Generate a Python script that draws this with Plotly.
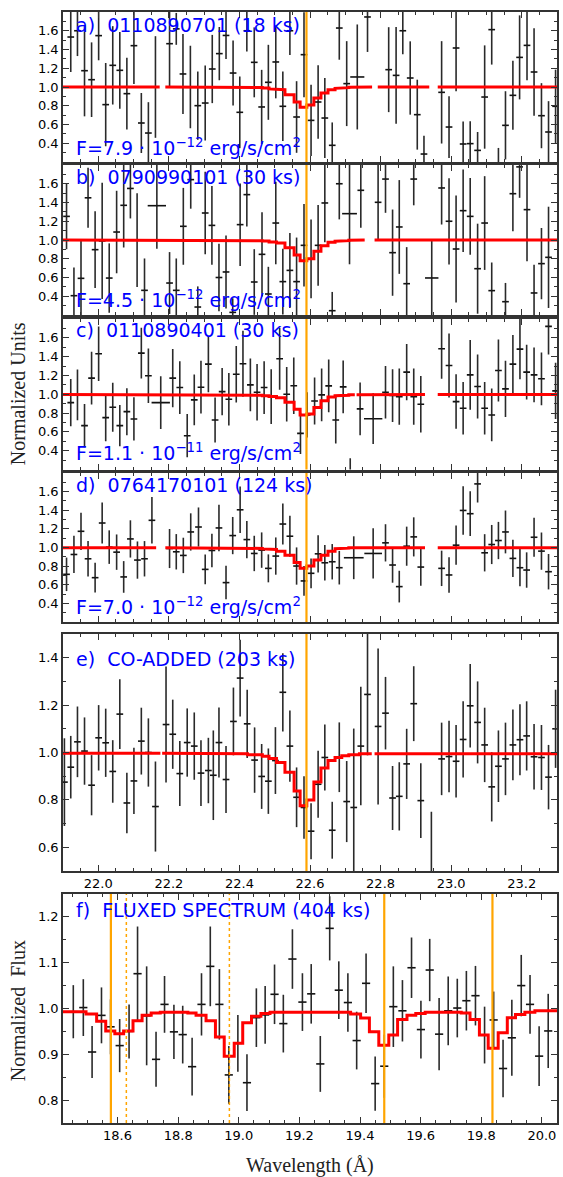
import plotly.graph_objects as go

# ---------------- data ----------------
# panel a
a_x = [21.922, 21.941, 21.961, 21.981, 22.001, 22.021, 22.041, 22.061, 22.081, 22.101, 22.122, 22.142, 22.162,
       22.202, 22.221, 22.240, 22.261, 22.282, 22.303, 22.323, 22.343, 22.362, 22.382, 22.401, 22.421, 22.442,
       22.463, 22.482, 22.503, 22.523, 22.543, 22.562, 22.583, 22.603, 22.623, 22.642, 22.663, 22.683, 22.704,
       22.734, 22.763, 22.823, 22.844, 22.863, 22.884, 22.904, 22.923, 22.973, 22.994, 23.014, 23.034, 23.054,
       23.075, 23.095, 23.115, 23.134, 23.154, 23.175, 23.194, 23.215, 23.235, 23.256, 23.276, 23.296]
a_y = [1.533, 1.60, 1.174, 1.078, 1.548, 0.812, 1.231, 1.178, 0.929, 1.441, 0.616, 0.509, 1.0,
       1.462, 1.62, 1.139, 1.0, 0.801, 0.829, 1.192, 1.356, 1.55, 1.149, 0.73, 1.60, 1.263, 0.787, 1.05, 1.267,
       0.794, 1.60, 0.68, 1.345, 0.644, 0.84, 0.669, 0.378, 1.629, 1.036, 1.107, 1.747, 1.185, 1.124, 1.60,
       1.096, 0.705, 0.285, 0.943, 0.573, 1.416, 0.392, 0.396, 0.324, 0.893, 1.612, 0.15, 0.591, 0.911, 1.316,
       1.444, 1.16, 0.694, 0.52, 0.794]
a_err = [0.373, 0.27, 0.487, 0.398, 0.263, 0.444, 0.418, 0.409, 0.382, 0.409, 0.32, 0.329, 0.542,
         0.462, 0.17, 0.427, 0.44, 0.364, 0.40, 0.364, 0.284, 0.25, 0.347, 0.382, 0.22, 0.373, 0.396, 0.40, 0.388,
         0.37, 0.26, 0.382, 0.453, 0.379, 0.391, 0.427, 0.244, 0.338, 0.453, 0.56, 0.373, 0.453, 0.516, 0.25,
         0.391, 0.373, 0.196, 0.546, 0.329, 0.462, 0.24, 0.24, 0.196, 0.551, 0.373, 0.2, 0.364, 0.368, 0.448,
         0.373, 0.466, 0.347, 0.329, 0.391]
a_wide = {22.734: 0.02}

# panel b
b_x = [21.910, 21.931, 21.951, 21.971, 21.991, 22.011, 22.031, 22.052, 22.072, 22.091, 22.110, 22.131, 22.166,
       22.202, 22.221, 22.241, 22.262, 22.282, 22.303, 22.322, 22.342, 22.362, 22.381, 22.402, 22.421, 22.442,
       22.464, 22.482, 22.503, 22.523, 22.543, 22.562, 22.583, 22.603, 22.623, 22.642, 22.663, 22.683, 22.712,
       22.744, 22.793, 22.814, 22.834, 22.853, 22.874, 22.894, 22.945, 22.973, 22.994, 23.014, 23.034, 23.054,
       23.075, 23.095, 23.115, 23.154, 23.175, 23.194, 23.215, 23.235, 23.256, 23.276]
b_y = [1.252, 0.406, 0.591, 1.45, 0.897, 0.99, 0.594, 1.085, 1.37, 1.55, 1.0, 0.463, 1.366, 0.541, 0.463, 1.146,
       1.644, 0.285, 1.288, 1.156, 0.60, 0.659, 0.228, 1.164, 1.484, 0.552, 0.847, 0.424, 1.181, 0.556, 0.676,
       0.556, 0.943, 0.80, 0.943, 1.395, 0.246, 1.60, 1.281, 1.53, 1.402, 1.65, 0.865, 1.139, 0.534, 1.65, 0.595,
       1.555, 1.20, 0.904, 1.313, 1.252, 0.694, 1.181, 0.46, 0.342, 1.494, 1.78, 1.324, 0.435, 0.748, 0.815]
b_err = [0.35, 0.30, 0.40, 0.32, 0.41, 0.62, 0.37, 0.44, 0.45, 0.32, 0.50, 0.34, 0.46, 0.33, 0.34, 0.41, 0.31,
         0.22, 0.44, 0.42, 0.36, 0.39, 0.15, 0.44, 0.34, 0.35, 0.45, 0.29, 0.44, 0.35, 0.40, 0.47, 0.44, 0.42,
         0.43, 0.42, 0.20, 0.38, 0.54, 0.40, 0.41, 0.36, 0.46, 0.50, 0.39, 0.28, 0.41, 0.39, 0.46, 0.57, 0.44,
         0.41, 0.48, 0.50, 0.30, 0.20, 0.40, 0.33, 0.55, 0.30, 0.38, 0.54]
b_wide = {22.166: 0.026, 22.712: 0.021, 22.945: 0.019}

# panel c
c_x = [21.922, 21.941, 21.961, 21.981, 22.001, 22.021, 22.041, 22.061, 22.081, 22.101, 22.122, 22.142, 22.177,
       22.211, 22.231, 22.252, 22.272, 22.291, 22.312, 22.331, 22.351, 22.370, 22.391, 22.410, 22.431, 22.450,
       22.470, 22.490, 22.514, 22.534, 22.554, 22.573, 22.592, 22.613, 22.633, 22.653, 22.673, 22.694, 22.714,
       22.742, 22.779, 22.814, 22.834, 22.853, 22.874, 22.894, 22.914, 22.973, 22.994, 23.014, 23.034, 23.054,
       23.075, 23.095, 23.115, 23.134, 23.154, 23.175, 23.195, 23.214, 23.235, 23.256, 23.276, 23.296]
c_y = [0.911, 0.993, 0.666, 1.171, 1.43, 0.751, 0.861, 0.666, 0.815, 0.737, 1.437, 1.196, 0.911, 1.171, 1.071,
       0.559, 0.94, 1.075, 1.32, 0.726, 1.028, 0.947, 1.213, 1.324, 1.10, 1.021, 1.071, 0.975, 1.377, 1.0, 1.09,
       0.584, 0.78, 0.929, 0.993, 1.089, 0.726, 1.078, 0.14, 0.844, 0.74, 1.021, 0.986, 0.975, 1.235, 0.975,
       0.893, 1.484, 1.306, 0.922, 0.851, 1.206, 1.082, 0.851, 0.78, 1.252, 1.057, 1.32, 1.48, 1.235, 1.206,
       1.164, 1.722, 1.036]
c_err = [0.25, 0.27, 0.23, 0.28, 0.29, 0.25, 0.26, 0.22, 0.25, 0.23, 0.27, 0.29, 0.28, 0.31, 0.28, 0.23, 0.27,
         0.28, 0.30, 0.24, 0.25, 0.28, 0.30, 0.35, 0.28, 0.30, 0.28, 0.29, 0.33, 0.29, 0.30, 0.22, 0.24, 0.25,
         0.28, 0.28, 0.25, 0.28, 0.18, 0.28, 0.27, 0.28, 0.28, 0.30, 0.30, 0.30, 0.30, 0.32, 0.34, 0.29, 0.28,
         0.37, 0.34, 0.28, 0.28, 0.33, 0.30, 0.31, 0.32, 0.29, 0.29, 0.28, 0.30, 0.30]
c_wide = {22.177: 0.026, 22.779: 0.026}

# panel d
d_x = [21.910, 21.931, 21.951, 21.971, 21.991, 22.011, 22.031, 22.052, 22.072, 22.091, 22.111, 22.131, 22.152,
       22.202, 22.221, 22.241, 22.262, 22.284, 22.303, 22.322, 22.342, 22.362, 22.381, 22.402, 22.421, 22.442,
       22.463, 22.482, 22.503, 22.523, 22.543, 22.562, 22.583, 22.603, 22.623, 22.642, 22.663, 22.683, 22.724,
       22.779, 22.814, 22.834, 22.853, 22.874, 22.894, 22.914, 22.973, 22.994, 23.014, 23.034, 23.054, 23.075,
       23.095, 23.115, 23.134, 23.154, 23.175, 23.195, 23.214, 23.235, 23.256, 23.276]
d_y = [0.712, 0.925, 1.174, 0.879, 0.676, 1.263, 1.004, 0.95, 0.684, 1.092, 0.865, 0.879, 1.292, 0.989, 0.954,
       0.915, 1.167, 1.22, 0.765, 0.968, 1.21, 0.623, 1.128, 1.405, 1.085, 0.936, 0.972, 0.776, 0.908, 1.252,
       1.121, 0.801, 0.641, 0.723, 0.932, 0.836, 0.847, 0.783, 0.89, 0.936, 1.05, 0.812, 0.58, 1.014, 1.114,
       0.79, 0.776, 0.705, 1.025, 1.398, 1.363, 1.683, 0.943, 1.032, 1.075, 1.167, 0.883, 0.783, 0.758, 1.11,
       0.961, 0.74]
d_err = [0.18, 0.20, 0.20, 0.19, 0.16, 0.22, 0.18, 0.19, 0.17, 0.20, 0.20, 0.19, 0.25, 0.21, 0.19, 0.19, 0.20,
         0.21, 0.16, 0.18, 0.25, 0.18, 0.20, 0.25, 0.20, 0.19, 0.19, 0.15, 0.20, 0.22, 0.22, 0.20, 0.16, 0.16,
         0.20, 0.19, 0.19, 0.18, 0.23, 0.27, 0.20, 0.19, 0.17, 0.21, 0.21, 0.20, 0.19, 0.19, 0.21, 0.26, 0.24,
         0.20, 0.20, 0.21, 0.20, 0.23, 0.20, 0.20, 0.19, 0.21, 0.20, 0.19]
d_wide = {22.724: 0.028, 22.779: 0.025}

# panel e (co-added)
e_x = [21.904, 21.922, 21.941, 21.961, 21.981, 22.001, 22.021, 22.041, 22.061, 22.081, 22.101, 22.122, 22.142,
       22.162, 22.192, 22.211, 22.231, 22.252, 22.272, 22.291, 22.312, 22.326, 22.342, 22.362, 22.383, 22.402,
       22.422, 22.443, 22.463, 22.482, 22.502, 22.523, 22.543, 22.562, 22.583, 22.603, 22.623, 22.642, 22.663,
       22.683, 22.704, 22.724, 22.744, 22.763, 22.793, 22.814, 22.834, 22.853, 22.874, 22.894, 22.914, 22.944,
       22.973, 22.994, 23.014, 23.034, 23.054, 23.075, 23.095, 23.115, 23.134, 23.154, 23.175, 23.195, 23.214,
       23.235, 23.256, 23.276, 23.296]
e_y = [0.875, 0.938, 1.045, 1.006, 0.862, 1.062, 1.041, 0.92, 1.162, 0.787, 0.88, 1.048, 1.0, 0.772, 1.118,
       1.077, 0.911, 1.042, 1.027, 0.913, 0.924, 0.904, 1.042, 0.886, 1.131, 1.314, 1.121, 0.968, 0.899, 0.879,
       0.966, 1.254, 1.027, 0.811, 0.768, 0.668, 0.866, 0.979, 0.672, 0.98, 0.793, 0.768, 1.027, 1.245, 1.11,
       1.166, 0.808, 0.815, 0.952, 1.206, 0.797, 0.49, 0.973, 0.983, 0.963, 1.055, 1.197, 1.127, 1.032, 0.855,
       0.942, 0.973, 1.032, 1.054, 1.07, 0.982, 0.979, 0.896, 1.10]
e_err = [0.185, 0.132, 0.149, 0.142, 0.127, 0.138, 0.144, 0.132, 0.147, 0.128, 0.14, 0.141, 0.144, 0.19, 0.245,
         0.146, 0.137, 0.144, 0.142, 0.139, 0.138, 0.189, 0.148, 0.141, 0.143, 0.162, 0.144, 0.138, 0.137, 0.138,
         0.141, 0.165, 0.15, 0.126, 0.132, 0.118, 0.141, 0.139, 0.12, 0.147, 0.171, 0.333, 0.25, 0.257, 0.329,
         0.153, 0.135, 0.144, 0.148, 0.158, 0.158, 0.26, 0.153, 0.151, 0.153, 0.161, 0.176, 0.173, 0.157, 0.146,
         0.151, 0.153, 0.149, 0.15, 0.146, 0.138, 0.137, 0.136, 0.165]
e_wide = {}

# panel f (fluxed spectrum)
f_x = [18.454, 18.487, 18.516, 18.547, 18.577, 18.607, 18.638, 18.666, 18.696, 18.727, 18.755, 18.786, 18.815,
       18.846, 18.877, 18.906, 18.936, 18.967, 18.997, 19.027, 19.058, 19.087, 19.118, 19.147, 19.177, 19.210,
       19.239, 19.269, 19.300, 19.330, 19.360, 19.389, 19.420, 19.450, 19.480, 19.510, 19.540, 19.570, 19.601,
       19.630, 19.661, 19.691, 19.721, 19.751, 19.781, 19.811, 19.841, 19.872, 19.901, 19.932, 19.961, 19.991,
       20.021]
f_y = [0.993, 1.002, 0.905, 0.985, 0.96, 0.919, 0.95, 1.076, 0.984, 0.889, 1.009, 0.949, 0.943, 0.873, 1.009,
       1.092, 1.009, 0.855, 0.924, 0.838, 0.98, 0.986, 1.031, 0.967, 1.108, 1.014, 1.032, 0.879, 1.175, 1.04,
       1.013, 0.93, 1.055, 0.836, 0.874, 1.004, 0.995, 1.089, 0.954, 1.084, 0.944, 0.995, 1.001, 1.017, 1.028,
       0.942, 0.975, 0.869, 0.936, 1.05, 1.009, 0.896, 0.951]
f_err = [0.058, 0.062, 0.057, 0.061, 0.06, 0.058, 0.059, 0.103, 0.108, 0.06, 0.062, 0.059, 0.063, 0.063, 0.068,
         0.087, 0.077, 0.063, 0.062, 0.062, 0.064, 0.063, 0.065, 0.063, 0.065, 0.063, 0.065, 0.061, 0.07, 0.063,
         0.064, 0.063, 0.065, 0.059, 0.069, 0.088, 0.067, 0.066, 0.063, 0.068, 0.079, 0.075, 0.064, 0.065, 0.065,
         0.062, 0.062, 0.063, 0.083, 0.067, 0.064, 0.065, 0.081]

# absorption models (step bins: left edges + value per bin)
model_edges = [21.9, 22.40, 22.423, 22.465, 22.484, 22.505, 22.529, 22.555, 22.572, 22.591, 22.611, 22.631,
               22.651, 22.671, 22.69, 22.71, 22.74, 23.3]
a_model = [1.0, 0.998, 0.995, 0.99, 0.98, 0.972, 0.918, 0.84, 0.783, 0.808, 0.883, 0.936, 0.972, 0.986, 0.993, 0.997, 1.0]
b_model = [1.0, 0.998, 0.993, 0.99, 0.98, 0.968, 0.917, 0.84, 0.78, 0.80, 0.879, 0.94, 0.975, 0.988, 0.993, 0.997, 1.0]
c_model = [0.997, 0.995, 0.99, 0.985, 0.975, 0.962, 0.915, 0.84, 0.78, 0.79, 0.86, 0.93, 0.97, 0.985, 0.99, 0.995, 0.997]
d_model = [0.998, 0.996, 0.99, 0.985, 0.978, 0.961, 0.918, 0.84, 0.776, 0.80, 0.865, 0.918, 0.961, 0.986, 0.993, 0.996, 0.998]
e_model = [0.997, 0.995, 0.99, 0.984, 0.975, 0.958, 0.917, 0.838, 0.775, 0.80, 0.876, 0.935, 0.966, 0.979, 0.986, 0.99, 0.995]
a_gaps = [(22.174, 22.19), (22.776, 22.792), (22.938, 22.962)]
b_gaps = [(22.755, 22.783)]
c_gaps = [(22.727, 22.732), (22.926, 22.962)]
d_gaps = [(22.164, 22.19), (22.926, 22.962)]
e_gaps = [(22.176, 22.181), (22.775, 22.783)]

f_edges = [18.42, 18.496, 18.531, 18.561, 18.591, 18.62, 18.651, 18.681, 18.711, 18.741, 18.832, 18.859, 18.892,
           18.923, 18.952, 18.985, 19.013, 19.042, 19.073, 19.103, 19.369, 19.402, 19.431, 19.462, 19.495, 19.524,
           19.555, 19.584, 19.615, 19.734, 19.763, 19.794, 19.823, 19.856, 19.886, 19.913, 19.944, 19.977, 20.05]
f_model = [0.993, 0.988, 0.972, 0.951, 0.945, 0.951, 0.973, 0.985, 0.99, 0.992, 0.99, 0.985, 0.973, 0.938, 0.896,
           0.924, 0.969, 0.983, 0.989, 0.992, 0.988, 0.979, 0.949, 0.92, 0.942, 0.976, 0.985, 0.989, 0.992, 0.99,
           0.976, 0.942, 0.913, 0.947, 0.98, 0.987, 0.992, 0.995]

line_top = [22.59]
f_lines_solid = [18.578, 19.48, 19.837]
f_lines_dotted = [18.629, 18.969]

titles = ["a)\u00a0 0110890701 (18 ks)", "b)\u00a0 0790990101 (30 ks)", "c)\u00a0 0110890401 (30 ks)",
          "d)\u00a0 0764170101 (124 ks)", "e)\u00a0 CO-ADDED (203 ks)", "f)\u00a0 FLUXED SPECTRUM (404 ks)"]
fluxes = ["F=7.9 · 10<sup>−12</sup> erg/s/cm<sup>2</sup>", "F=4.5 · 10<sup>−12</sup> erg/s/cm<sup>2</sup>",
          "F=1.1 · 10<sup>−11</sup> erg/s/cm<sup>2</sup>", "F=7.0 · 10<sup>−12</sup> erg/s/cm<sup>2</sup>"]

ytick_top = [0.4, 0.6, 0.8, 1.0, 1.2, 1.4, 1.6]
ytick_e = [0.6, 0.8, 1.0, 1.2, 1.4]
ytick_f = [0.8, 0.9, 1.0, 1.1, 1.2]
xtick_top = [22.0, 22.2, 22.4, 22.6, 22.8, 23.0, 23.2]
xtick_f = [18.6, 18.8, 19.0, 19.2, 19.4, 19.6, 19.8, 20.0]

# ---------------- layout geometry (pixels) ----------------
W, H = 563, 1177
L, R, T, B = 63, 4, 12, 54
PH = H - T - B
PW = W - L - R
panel_px = [(12, 162), (165, 315), (319, 469.5), (473, 622), (634, 871), (894, 1123)]


def ypaper(py):
    return (H - B - py) / PH


def xpaper(px):
    return (px - L) / PW


def step_line(edges, vals, gaps):
    xs, ys = [], []
    for i in range(len(edges) - 1):
        segs = [(edges[i], edges[i + 1])]
        for g0, g1 in gaps:
            new = []
            for s0, s1 in segs:
                if g1 <= s0 or g0 >= s1:
                    new.append((s0, s1))
                    continue
                if s0 < g0:
                    new.append((s0, g0))
                if g1 < s1:
                    new.append((g1, s1))
            segs = new
        for s0, s1 in segs:
            if xs and xs[-1] is not None and abs(xs[-1] - s0) > 1e-9:
                xs.append(None)
                ys.append(None)
            xs += [s0, s1]
            ys += [vals[i], vals[i]]
    return xs, ys


fig = go.Figure()
ERRC = '#2a2a2a'

panels = [
    (a_x, a_y, a_err, a_wide, a_model, a_gaps),
    (b_x, b_y, b_err, b_wide, b_model, b_gaps),
    (c_x, c_y, c_err, c_wide, c_model, c_gaps),
    (d_x, d_y, d_err, d_wide, d_model, d_gaps),
    (e_x, e_y, e_err, e_wide, e_model, e_gaps),
]

for i, (px_, py_, pe_, pw_, pm_, pg_) in enumerate(panels):
    n = i + 1
    xa = 'x' if n == 1 else 'x%d' % n
    ya = 'y' if n == 1 else 'y%d' % n
    xerr = [pw_.get(v, 0.0095) for v in px_]
    fig.add_trace(go.Scatter(x=px_, y=py_, mode='markers', xaxis=xa, yaxis=ya,
                             marker=dict(size=1, color=ERRC),
                             error_y=dict(type='data', array=pe_, width=0, thickness=1.6, color=ERRC),
                             error_x=dict(type='data', array=xerr, width=0, thickness=1.6, color='#111111'),
                             showlegend=False, hoverinfo='skip'))
    mx, my = step_line(model_edges, pm_, pg_)
    fig.add_trace(go.Scatter(x=mx, y=my, mode='lines', xaxis=xa, yaxis=ya,
                             line=dict(color='#ff0000', width=3), connectgaps=False,
                             showlegend=False, hoverinfo='skip'))

# panel f
fig.add_trace(go.Scatter(x=f_x, y=f_y, mode='markers', xaxis='x6', yaxis='y6',
                         marker=dict(size=1, color=ERRC),
                         error_y=dict(type='data', array=f_err, width=0, thickness=1.6, color=ERRC),
                         error_x=dict(type='data', array=[0.0135] * len(f_x), width=0, thickness=1.6,
                                      color='#111111'),
                         showlegend=False, hoverinfo='skip'))
fmx, fmy = step_line(f_edges, f_model, [])
fig.add_trace(go.Scatter(x=fmx, y=fmy, mode='lines', xaxis='x6', yaxis='y6',
                         line=dict(color='#ff0000', width=3), showlegend=False, hoverinfo='skip'))

axis_common = dict(showline=True, linecolor='#333333', linewidth=1.5, mirror='ticks', ticks='inside',
                   ticklen=6, tickwidth=1.2, tickcolor='#333333', showgrid=False, zeroline=False,
                   tickfont=dict(family='DejaVu Sans', size=13, color='black'))

layout = dict(width=W, height=H, margin=dict(l=L, r=R, t=T, b=B), paper_bgcolor='white',
              plot_bgcolor='white', showlegend=False)

for i in range(6):
    n = i + 1
    xk = 'xaxis' if n == 1 else 'xaxis%d' % n
    yk = 'yaxis' if n == 1 else 'yaxis%d' % n
    top, bot = panel_px[i]
    ydom = [max(0.0, ypaper(bot)), min(1.0, ypaper(top))]
    if n <= 5:
        xa = dict(axis_common, range=[21.9, 23.3], tickmode='array', tickvals=xtick_top, tickformat='.1f',
                  showticklabels=(n == 5), anchor='y' if n == 1 else 'y%d' % n,
                  minor=dict(ticks='inside', ticklen=3, tick0=0, dtick=0.05, tickcolor='#333333'))
        if n > 1:
            xa['matches'] = 'x'
        if n <= 4:
            ya = dict(axis_common, range=[0.2, 1.8], tickmode='array', tickvals=ytick_top, tickformat='.1f',
                      minor=dict(ticks='inside', ticklen=3, tick0=0, dtick=0.1, tickcolor='#333333'))
        else:
            ya = dict(axis_common, range=[0.5, 1.5], tickmode='array', tickvals=ytick_e, tickformat='.1f',
                      minor=dict(ticks='inside', ticklen=3, tick0=0, dtick=0.1, tickcolor='#333333'))
    else:
        xa = dict(axis_common, range=[18.42, 20.05], tickmode='array', tickvals=xtick_f, tickformat='.1f',
                  anchor='y6', minor=dict(ticks='inside', ticklen=3, tick0=0, dtick=0.05, tickcolor='#333333'))
        ya = dict(axis_common, range=[0.75, 1.25], tickmode='array', tickvals=ytick_f, tickformat='.1f',
                  minor=dict(ticks='inside', ticklen=3, tick0=0, dtick=0.05, tickcolor='#333333'))
    ya['domain'] = ydom
    ya['anchor'] = 'x' if n == 1 else 'x%d' % n
    layout[xk] = xa
    layout[yk] = ya

shapes = []
for n in range(1, 6):
    xr = 'x' if n == 1 else 'x%d' % n
    yr = 'y domain' if n == 1 else 'y%d domain' % n
    for v in line_top:
        shapes.append(dict(type='line', xref=xr, yref=yr, x0=v, x1=v, y0=0, y1=1,
                           line=dict(color='#ffa500', width=2.2), layer='above'))
for v in f_lines_solid:
    shapes.append(dict(type='line', xref='x6', yref='y6 domain', x0=v, x1=v, y0=0, y1=1,
                       line=dict(color='#ffa500', width=2.2), layer='above'))
for v in f_lines_dotted:
    shapes.append(dict(type='line', xref='x6', yref='y6 domain', x0=v, x1=v, y0=0, y1=1,
                       line=dict(color='#ffa500', width=1.5, dash='dot'), layer='above'))
layout['shapes'] = shapes

title_y = [25, 177, 330, 485, 659, 910]
flux_y = [146.7, 299.3, 451.7, 606]
ann = []
for t, yy in zip(titles, title_y):
    ann.append(dict(text=t, xref='paper', yref='paper', x=xpaper(74), y=ypaper(yy), xanchor='left',
                    yanchor='middle', showarrow=False, font=dict(family='DejaVu Sans', size=19, color='#0000ff')))
for t, yy in zip(fluxes, flux_y):
    ann.append(dict(text=t, xref='paper', yref='paper', x=xpaper(74), y=ypaper(yy), xanchor='left',
                    yanchor='middle', showarrow=False, font=dict(family='DejaVu Sans', size=19, color='#0000ff')))
ann.append(dict(text='Normalized Units', xref='paper', yref='paper', x=xpaper(18), y=ypaper(394),
                xanchor='center', yanchor='middle', textangle=-90, showarrow=False,
                font=dict(family='Liberation Serif', size=20, color='#222222')))
ann.append(dict(text='Normalized\u00a0 Flux', xref='paper', yref='paper', x=xpaper(18), y=ypaper(1011),
                xanchor='center', yanchor='middle', textangle=-90, showarrow=False,
                font=dict(family='Liberation Serif', size=20, color='#222222')))
ann.append(dict(text='Wavelength (Å)', xref='paper', yref='paper', x=xpaper(311), y=ypaper(1165),
                xanchor='center', yanchor='middle', showarrow=False,
                font=dict(family='Liberation Serif', size=20, color='#222222')))
layout['annotations'] = ann

fig.update_layout(**layout)
fig.write_html("out.html")
